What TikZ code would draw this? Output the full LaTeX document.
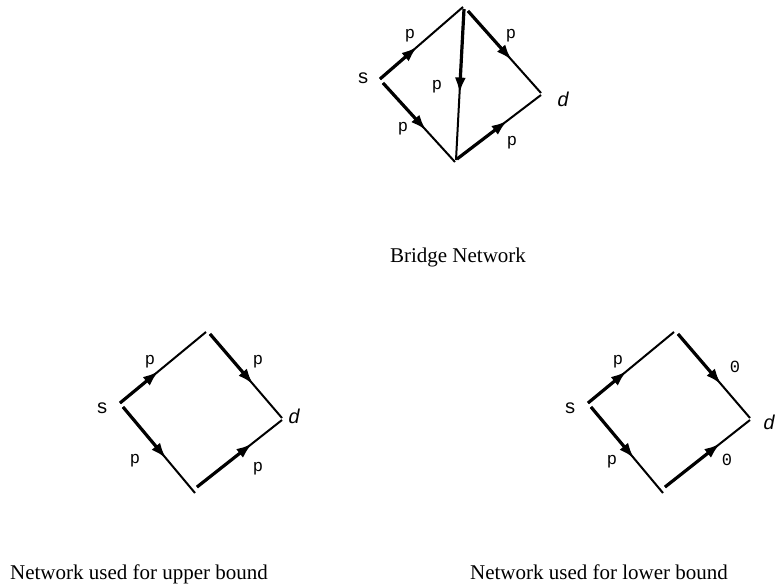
\documentclass[tikz,border=0pt]{standalone}
\usepackage{fontspec}
\setmainfont{Liberation Serif}
\newfontfamily\netmono{Liberation Mono}
\usetikzlibrary{calc,arrows.meta}

\begin{document}
\begin{tikzpicture}[x=1pt,y=-1pt,
  head/.style={line width=3.2pt,-{Latex[length=16pt,width=11pt]}},
  tail/.style={line width=2pt},
  lbl/.style={font=\netmono\fontsize{17}{17}\selectfont},
  vtx/.style={font=\netmono\fontsize{20}{20}\selectfont},
  caption/.style={font=\fontsize{21}{21}\selectfont,anchor=base}]
\useasboundingbox (0,0) rectangle (776,588);
% bridge network
\coordinate (bs1) at (380,79);
\coordinate (bs2) at (383,83);
\coordinate (ba) at (463,7);
\coordinate (ba2) at (464,9);
\coordinate (ba3) at (468,11);
\coordinate (bb) at (455,162);
\coordinate (bb2) at (456,160);
\coordinate (bb3) at (457,159);
\coordinate (bd) at (541,93);
\coordinate (bd2) at (541,95);
\draw[tail] (bs1) -- (ba);
\draw[head] (bs1) -- ($(bs1)!0.45!(ba)$);
\draw[tail] (bs2) -- (bb);
\draw[head] (bs2) -- ($(bs2)!0.6!(bb)$);
\draw[tail] (ba2) -- (bb2);
\draw[head] (ba2) -- ($(ba2)!0.56!(bb2)$);
\draw[tail] (ba3) -- (bd);
\draw[head] (ba3) -- ($(ba3)!0.6!(bd)$);
\draw[tail] (bb3) -- (bd2);
\draw[head] (bb3) -- ($(bb3)!0.6!(bd2)$);
\node[vtx] (bsl) at (363,78) {s};
\node[vtx] (bdl) at (563,99) {\itshape d};
\node[lbl] (bp1) at (410,36) {p};
\node[lbl] (bp2) at (511,36) {p};
\node[lbl] (bp3) at (437,87) {p};
\node[lbl] (bp4) at (403,129) {p};
\node[lbl] (bp5) at (512,143) {p};
\node[caption] (bcap) at (458,262) {Bridge Network};
% upper bound network
\coordinate (us1) at (120,403);
\coordinate (us2) at (123,407);
\coordinate (ua) at (206,332);
\coordinate (ua2) at (210,334);
\coordinate (ub) at (195,493);
\coordinate (ub2) at (197,487);
\coordinate (ud) at (282,418);
\coordinate (ud2) at (282,420);
\draw[tail] (us1) -- (ua);
\draw[head] (us1) -- ($(us1)!0.45!(ua)$);
\draw[tail] (us2) -- (ub);
\draw[head] (us2) -- ($(us2)!0.6!(ub)$);
\draw[tail] (ua2) -- (ud);
\draw[head] (ua2) -- ($(ua2)!0.6!(ud)$);
\draw[tail] (ub2) -- (ud2);
\draw[head] (ub2) -- ($(ub2)!0.65!(ud2)$);
\node[vtx] (usl) at (102,408) {s};
\node[vtx] (udl) at (294,416) {\itshape d};
\node[lbl] (up1) at (150,362) {p};
\node[lbl] (up2) at (258,362) {p};
\node[lbl] (up3) at (135,461) {p};
\node[lbl] (up4) at (258,469) {p};
\node[caption] (ucap) at (139,579) {Network used for upper bound};
% lower bound network
\coordinate (ls1) at (588,403);
\coordinate (ls2) at (591,407);
\coordinate (la) at (674,332);
\coordinate (la2) at (678,334);
\coordinate (lb) at (663,493);
\coordinate (lb2) at (665,487);
\coordinate (ld) at (750,418);
\coordinate (ld2) at (750,420);
\draw[tail] (ls1) -- (la);
\draw[head] (ls1) -- ($(ls1)!0.45!(la)$);
\draw[tail] (ls2) -- (lb);
\draw[head] (ls2) -- ($(ls2)!0.6!(lb)$);
\draw[tail] (la2) -- (ld);
\draw[head] (la2) -- ($(la2)!0.6!(ld)$);
\draw[tail] (lb2) -- (ld2);
\draw[head] (lb2) -- ($(lb2)!0.65!(ld2)$);
\node[vtx] (lsl) at (570,408) {s};
\node[vtx] (ldl) at (769,422) {\itshape d};
\node[lbl] (lp1) at (618,362) {p};
\node[lbl] (lp2) at (735,367) {0};
\node[lbl] (lp3) at (612,462) {p};
\node[lbl] (lp4) at (727,460) {0};
\node[caption] (lcap) at (599,579) {Network used for lower bound};
\end{tikzpicture}
\end{document}
